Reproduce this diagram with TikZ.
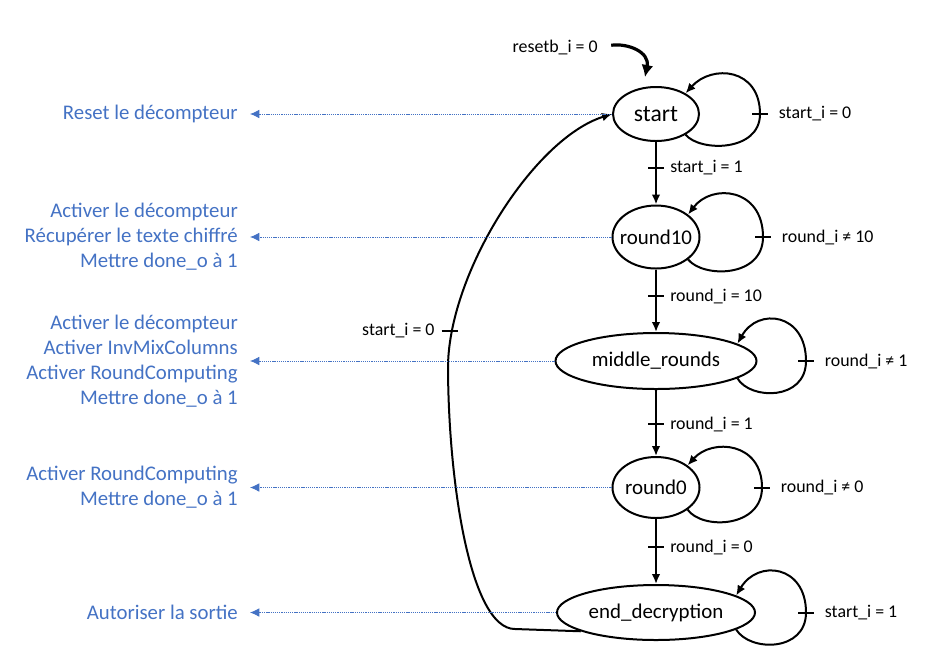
\documentclass[tikz,border=0pt]{standalone}
\usepackage{fontspec}
\setmainfont{Carlito}
\usetikzlibrary{arrows.meta,shapes.geometric}
\definecolor{actblue}{HTML}{4472C4}
% zero-width label so the ellipse size is set by minimum width/height only
\newcommand\zw[1]{\makebox[0pt]{#1}}

\begin{document}
\begin{tikzpicture}[x=0.75pt,y=-0.75pt,
  state/.style={ellipse,draw,line width=1.5pt,inner sep=0pt,
    font=\fontsize{15.7}{18}\selectfont},
  edge/.style={line width=1.5pt,-{Latex[length=7.5pt,width=6.5pt]}},
  tickmark/.style={line width=1.5pt},
  cond/.style={font=\fontsize{13.4}{16}\selectfont,inner sep=0pt,anchor=west},
  action/.style={font=\fontsize{15.6}{18.75}\selectfont,text=actblue,
    align=right,anchor=east,inner sep=0pt},
  link/.style={actblue,line width=0.65pt,dash pattern=on 0.8pt off 0.6pt,
    -{Latex[length=7pt,width=6.5pt]},shorten >=9pt},
]
\useasboundingbox (0,0) rectangle (945,669);

% states
\node[state,minimum width=64.5pt,minimum height=40.5pt,
  font=\fontsize{17.7}{20}\selectfont] (start) at (656,114) {\zw{start}};
\node[state,minimum width=65.25pt,minimum height=47.25pt] (round10) at (656,237) {\zw{round10}};
\node[state,minimum width=150.75pt,minimum height=42pt] (middle) at (656,361) {\zw{middle\_rounds}};
\node[state,minimum width=65.25pt,minimum height=45.75pt] (round0) at (656,487.5) {\zw{round0}};
\node[state,minimum width=148.5pt,minimum height=41.25pt] (end) at (656,612.5) {\zw{end\_decryption}};

% reset entry
\node[cond,anchor=east] (rst) at (598,47) {resetb\_i = 0};
\coordinate (rtip) at (645,77);
\draw[line width=2.4pt,-{Latex[length=9pt,width=9pt]},shorten <=10pt]
  (rst.east) .. controls (628,43) and (650,52) .. (rtip);

% forward transitions
\draw[edge] (start) -- (round10);
\draw[edge] (round10) -- (middle);
\draw[edge] (middle) -- (round0);
\draw[edge] (round0) -- (end);

\coordinate (t1) at (656,168);
\coordinate (t2) at (656,296);
\coordinate (t3) at (656,424);
\coordinate (t4) at (656,547);
\foreach \t/\txt in {t1/{start\_i = 1},t2/{round\_i = 10},t3/{round\_i = 1},t4/{round\_i = 0}}{
  \draw[tickmark] ([xshift=-6pt]\t) -- ([xshift=6pt]\t);
  \node[cond] at ([xshift=10.5pt]\t) {\txt};
}

% self loops
\draw[edge] (start.-35) .. controls (700,152) and (760,152) .. (760,114) coordinate (l0)
  .. controls (760,68) and (712,64) .. (start.35);
\draw[edge] (round10.-35) .. controls (703,278) and (763,278) .. (763,237) coordinate (l1)
  .. controls (763,188) and (712,183) .. (round10.35);
\draw[edge] (middle.-12) .. controls (750,400) and (806,401) .. (806,361) coordinate (l2)
  .. controls (806,313) and (758,307) .. (middle.12);
\draw[edge] (round0.-35) .. controls (702,530) and (762,528) .. (762,487.5) coordinate (l3)
  .. controls (762,442) and (712,438) .. (round0.35);
\draw[edge] (end.-12) .. controls (750,652) and (806,652) .. (806,612.5) coordinate (l4)
  .. controls (806,565) and (758,559) .. (end.12);

\foreach \l/\txt in {l0/{start\_i = 0},l1/{round\_i ≠ 10},l2/{round\_i ≠ 1},l3/{round\_i ≠ 0},l4/{start\_i = 1}}{
  \draw[tickmark] ([xshift=-6pt]\l) -- ([xshift=6pt]\l);
  \node[cond] at ([xshift=14pt]\l) {\txt};
}

% return to start
\draw[edge] (end.194) -- (515,629) .. controls (470,629) and (448,480) .. (448,365)
  .. controls (450,270) and (535,138) .. (start.west);
\coordinate (tb) at (449.5,331);
\draw[tickmark] ([xshift=-6pt]tb) -- ([xshift=6pt]tb);
\node[cond,anchor=east] at ([xshift=-11pt]tb) {start\_i = 0};

% actions per state
\node[action] (a0) at (238,114) {Reset le décompteur};
\node[action] (a1) at (238,237) {Activer le décompteur\\Récupérer le texte chiffré\\Mettre done\_o à 1};
\node[action] (a2) at (238,361) {Activer le décompteur\\Activer InvMixColumns\\Activer RoundComputing\\Mettre done\_o à 1};
\node[action] (a3) at (238,487.5) {Activer RoundComputing\\Mettre done\_o à 1};
\node[action] (a4) at (238,612.5) {Autoriser la sortie};

\draw[link] (start.west) -- (a0.east);
\draw[link] (round10.west) -- (a1.east);
\draw[link] (middle.west) -- (a2.east);
\draw[link] (round0.west) -- (a3.east);
\draw[link] (end.west) -- (a4.east);
\end{tikzpicture}
\end{document}
